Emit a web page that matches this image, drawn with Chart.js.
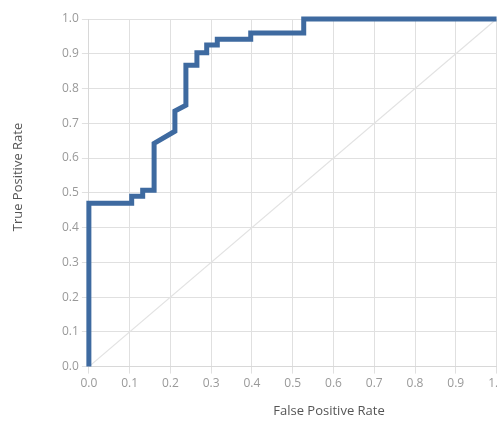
<!DOCTYPE html>
<html>
<head>
<meta charset="utf-8">
<script src="https://cdn.jsdelivr.net/npm/chart.js@4"></script>
<style>
  html, body { margin: 0; padding: 0; background: #fff; overflow: hidden; }
  #wrap { width: 497px; height: 422px; overflow: hidden; position: relative; }
  #box { position: absolute; left: 0; top: 0; width: 508px; height: 422px; }
</style>
</head>
<body>
<div id="wrap"><div id="box"><canvas id="roc"></canvas></div></div>
<script>
// ROC curve points
var fpr = [0, 0, 0.105, 0.105, 0.132, 0.132, 0.16, 0.16, 0.211, 0.211, 0.238, 0.238, 0.265, 0.265, 0.289, 0.289, 0.315, 0.315, 0.397, 0.397, 0.527, 0.527, 1.0];
var tpr = [0, 0.47, 0.47, 0.49, 0.49, 0.507, 0.507, 0.642, 0.677, 0.735, 0.752, 0.867, 0.867, 0.903, 0.903, 0.925, 0.925, 0.942, 0.942, 0.96, 0.96, 1.0, 1.0];
// chance line
var chanceX = [0, 1];
var chanceY = [0, 1];

var xTitle = 'False Positive Rate';
var yTitle = 'True Positive Rate';

function toPoints(xs, ys) {
  var pts = [];
  for (var i = 0; i < xs.length; i++) pts.push({x: xs[i], y: ys[i]});
  return pts;
}

// axis titles sit a bit off-centre in the original, so draw them by hand
var axisTitles = {
  id: 'axisTitles',
  afterDraw: function(chart) {
    var ctx = chart.ctx;
    ctx.save();
    ctx.fillStyle = '#555';
    ctx.font = '13px "Open Sans"';
    ctx.textAlign = 'center';
    ctx.textBaseline = 'middle';
    ctx.fillText(xTitle, 329, 411);
    ctx.translate(18, 177);
    ctx.rotate(-Math.PI / 2);
    ctx.fillText(yTitle, 0, 0);
    ctx.restore();
  }
};

var ctx = document.getElementById('roc').getContext('2d');
var rocChart = new Chart(ctx, {
  type: 'line',
  data: {
    datasets: [{
      label: 'ROC',
      data: toPoints(fpr, tpr),
      borderColor: '#3e6aa0',
      borderWidth: 5,
      pointRadius: 0,
      fill: false,
      tension: 0,
      clip: false,
      borderJoinStyle: 'miter',
      borderCapStyle: 'butt'
    }, {
      label: 'Chance',
      data: toPoints(chanceX, chanceY),
      borderColor: '#e2e2e2',
      borderWidth: 1.2,
      pointRadius: 0,
      fill: false
    }]
  },
  options: {
    responsive: true,
    maintainAspectRatio: false,
    animation: false,
    layout: { padding: { left: 59, top: 19, bottom: 28, right: 0 } },
    plugins: { legend: { display: false }, tooltip: { enabled: false } },
    scales: {
      x: {
        type: 'linear',
        min: 0, max: 1,
        grid: { color: '#e0e0e0', tickLength: 7 },
        border: { color: '#d8d8d8' },
        ticks: {
          stepSize: 0.1,
          color: '#999',
          font: { family: '"Open Sans"', size: 12 },
          maxRotation: 0,
          callback: function(v) { return v.toFixed(1); }
        }
      },
      y: {
        type: 'linear',
        min: 0, max: 1,
        grid: { color: '#e0e0e0', tickLength: 7 },
        border: { color: '#d8d8d8' },
        ticks: {
          stepSize: 0.1,
          color: '#999',
          font: { family: '"Open Sans"', size: 12 },
          callback: function(v) { return v.toFixed(1); }
        }
      }
    }
  },
  plugins: [axisTitles]
});
</script>
</body>
</html>
